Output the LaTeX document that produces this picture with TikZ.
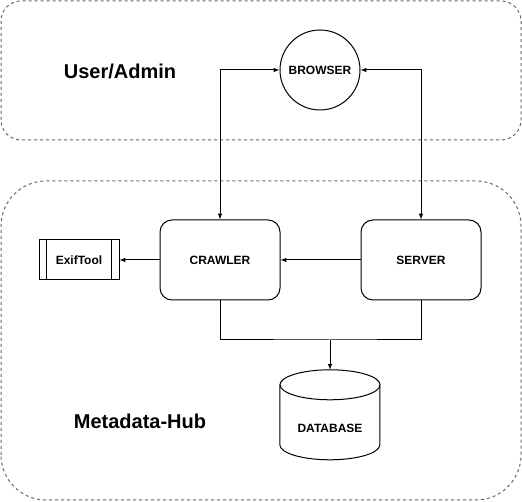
\documentclass[tikz,border=0pt]{standalone}
\usepackage{fontspec}
\setmainfont{Liberation Sans}
\usetikzlibrary{arrows}
\usetikzlibrary{fit,positioning,calc}

\begin{document}
\begin{tikzpicture}[x=1pt,y=1pt]
\tikzstyle{main}=[rectangle, rounded corners=12pt, minimum width=120pt, minimum height=80pt, line width=1pt, draw=black, font=\fontsize{12}{14}\selectfont\bfseries, node distance=80pt]
\tikzstyle{connect}=[-latex, line width=1pt]
\tikzstyle{both}=[latex-latex, line width=1pt]
\tikzstyle{zone}=[draw=black!60, dash pattern=on 3pt off 3pt, line width=1pt]
\tikzstyle{title}=[font=\fontsize{20}{24}\selectfont\bfseries]
\useasboundingbox (0,0) rectangle (522,502);
  \draw[zone, rounded corners=20pt] (1,362) rectangle (521,501);
  \draw[zone, rounded corners=45pt] (1,2) rectangle (521,321);
  \node[title] (user) at (120,431) {User/Admin};
  \node[title] (meta) at (140,81) {Metadata-Hub};
  \node[main, circle, rounded corners=0pt, minimum size=80pt, inner sep=0pt] (browser) at (320,432) {BROWSER};
  \node[main] (crawler) at (220,242) {CRAWLER};
  \node[main] (server) [right=of crawler] {SERVER};
  \node[main, rounded corners=0pt, minimum width=80pt, minimum height=40pt] (exif) [left=40pt of crawler] {ExifTool};
  \draw[line width=1pt] ($(exif.north west)+(8,0)$) -- ($(exif.south west)+(8,0)$)
        ($(exif.north east)+(-8,0)$) -- ($(exif.south east)+(-8,0)$);
  % database
  \node[rectangle, minimum width=100pt, minimum height=90pt, inner sep=0pt] (db) at (330,87) {};
  \node[font=\fontsize{12}{14}\selectfont\bfseries] (dbtext) at (330,74) {DATABASE};
  \draw[line width=1pt] ($(db.north)+(0,-15)$) ellipse [x radius=50pt, y radius=15pt];
  \draw[line width=1pt] ($(db.north west)+(0,-15)$) -- ++(0,-60)
        arc[start angle=180, end angle=360, x radius=50pt, y radius=15pt] -- ++(0,60);
  \coordinate (join) at (330,162);
  \path (crawler.north) edge [both, to path={|- (\tikztotarget)}] (browser.west)
        (server.north) edge [both, to path={|- (\tikztotarget)}] (browser.east)
        (server) edge [connect] (crawler)
        (crawler) edge [connect] (exif)
        (join) edge [connect] (db.north);
  \draw[line width=1pt] (crawler.south) |- (join) -| (server.south);
\end{tikzpicture}
\end{document}
